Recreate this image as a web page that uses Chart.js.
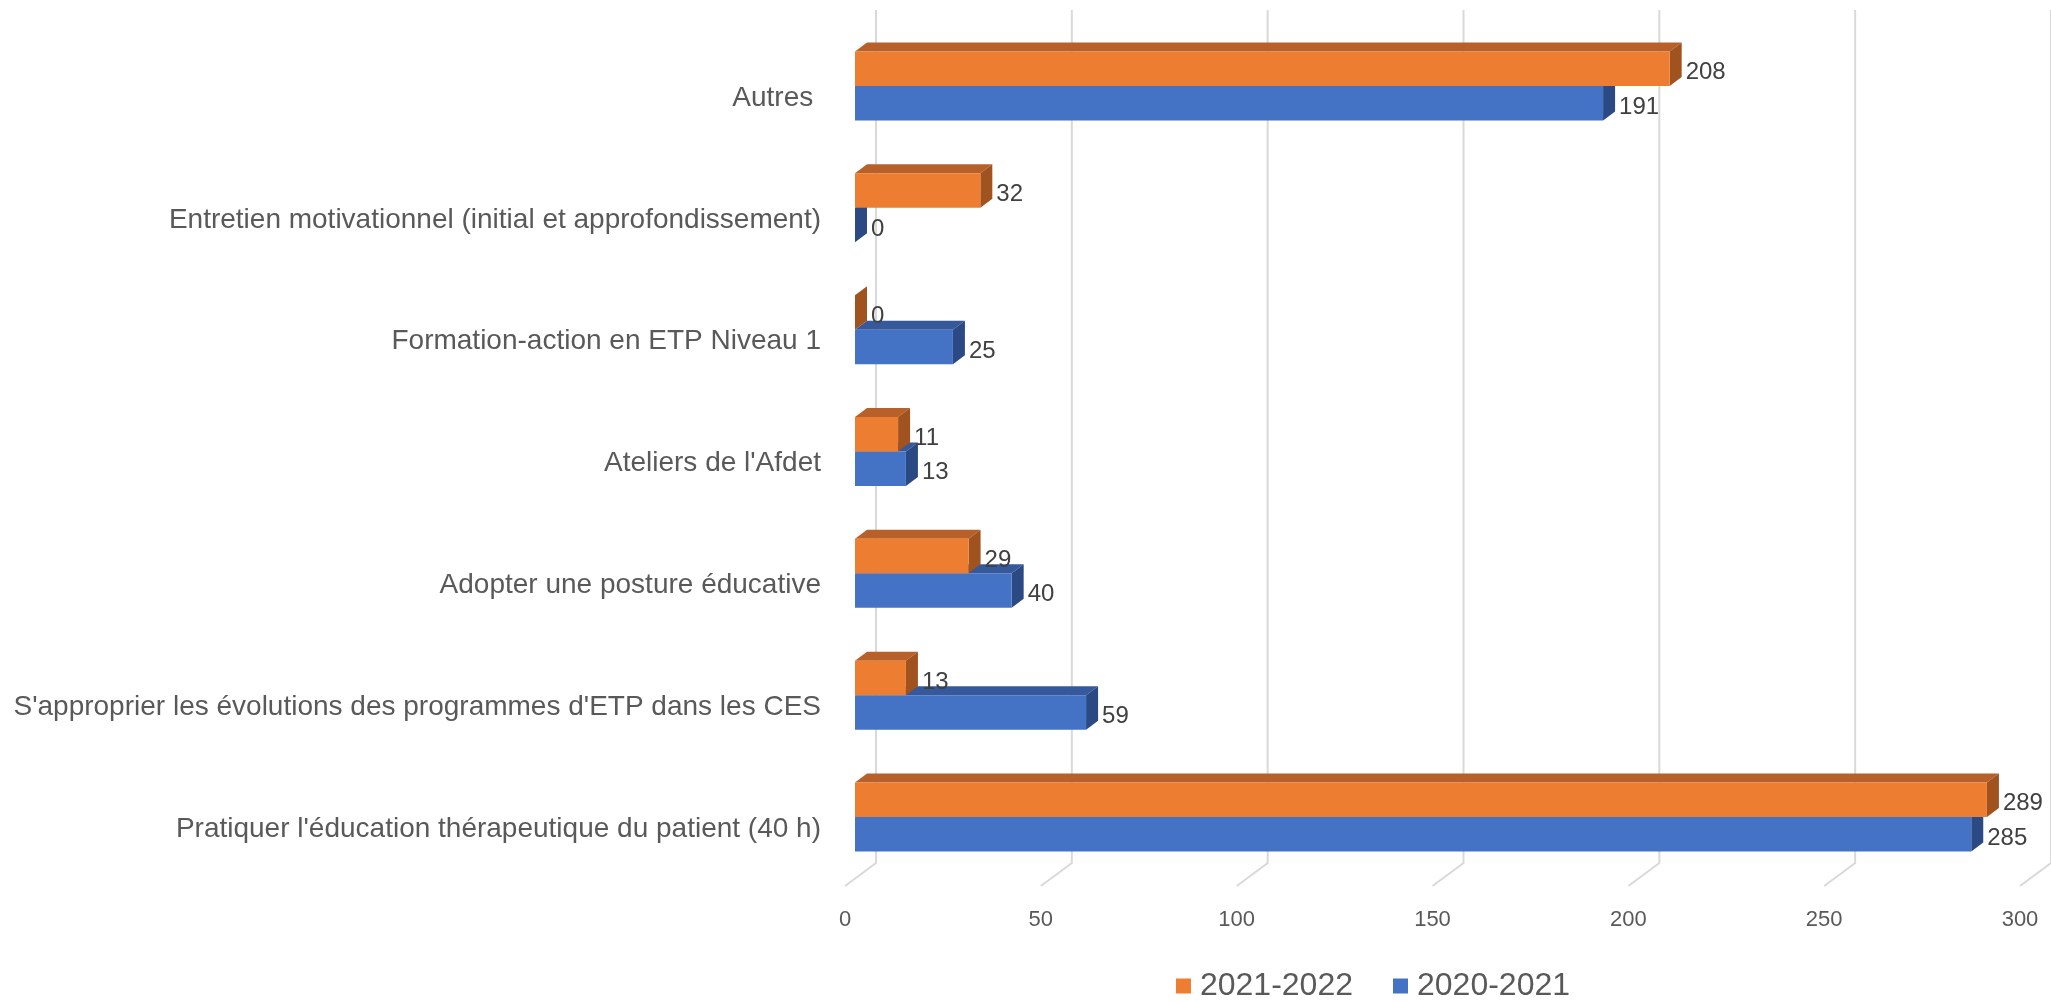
<!DOCTYPE html>
<html>
<head>
<meta charset="utf-8">
<title>Formations ETP</title>
<script src="https://cdn.jsdelivr.net/npm/chart.js@4.4.1/dist/chart.umd.min.js"></script>
<style>
    html, body { margin: 0; padding: 0; background: #fff; }
    #wrap { width: 2051px; height: 1002px; }
</style>
</head>
<body>
<div id="wrap"><canvas id="chart" width="2051" height="1002"></canvas></div>
<script>
// === Data ===
const categories = [
    'Autres ',
    'Entretien motivationnel (initial et approfondissement)',
    'Formation-action en ETP Niveau 1',
    "Ateliers de l'Afdet",
    'Adopter une posture éducative',
    "S'approprier les évolutions des programmes d'ETP dans les CES",
    "Pratiquer l'éducation thérapeutique du patient (40 h)"
];
const seriesNames = ['2021-2022', '2020-2021'];
const values2122 = [208, 32, 0, 11, 29, 13, 289];
const values2021 = [191, 0, 25, 13, 40, 59, 285];
const xTicks = [0, 50, 100, 150, 200, 250, 300];

// === Style ===
const FONT = "'Liberation Sans', Arial, sans-serif";
const faceColors = [
    { front: '#ED7D31', top: '#B7602A', side: '#A0521F' },
    { front: '#4472C4', top: '#35599B', side: '#2B4A84' }
];
const DX = 12;   // depth offset of the 3D faces
const DY = -9;

// === 3D faces, back wall grid, data labels ===
const bar3d = {
    id: 'bar3d',
    beforeDatasetsDraw(chart) {
        const ctx = chart.ctx;
        const xs = chart.scales.x;
        const area = chart.chartArea;
        ctx.save();
        ctx.strokeStyle = '#D9D9D9';
        ctx.lineWidth = 2;
        xTicks.forEach(v => {
            const px = xs.getPixelForValue(v);
            ctx.beginPath();
            ctx.moveTo(px + 21, 10);
            ctx.lineTo(px + 21, area.bottom - 15);
            ctx.lineTo(px - 10, area.bottom + 8);
            ctx.stroke();
        });
        for (let d = chart.data.datasets.length - 1; d >= 0; d--) {
            const c = faceColors[d];
            chart.getDatasetMeta(d).data.forEach(bar => {
                const { x, y, base, height } = bar.getProps(['x', 'y', 'base', 'height'], true);
                const top = y - height / 2;
                const bottom = y + height / 2;
                ctx.fillStyle = c.top;
                ctx.beginPath();
                ctx.moveTo(base, top);
                ctx.lineTo(base + DX, top + DY);
                ctx.lineTo(x + DX, top + DY);
                ctx.lineTo(x, top);
                ctx.closePath();
                ctx.fill();
                ctx.fillStyle = c.side;
                ctx.beginPath();
                ctx.moveTo(x, top);
                ctx.lineTo(x + DX, top + DY);
                ctx.lineTo(x + DX, bottom + DY);
                ctx.lineTo(x, bottom);
                ctx.closePath();
                ctx.fill();
            });
        }
        ctx.restore();
    },
    afterDatasetsDraw(chart) {
        const ctx = chart.ctx;
        ctx.save();
        ctx.font = '24px ' + FONT;
        ctx.fillStyle = '#404040';
        ctx.textAlign = 'left';
        ctx.textBaseline = 'middle';
        chart.data.datasets.forEach((ds, d) => {
            chart.getDatasetMeta(d).data.forEach((bar, i) => {
                const { x, y } = bar.getProps(['x', 'y'], true);
                ctx.fillText(String(ds.data[i]), x + DX + 4, y + 4);
            });
        });
        ctx.restore();
    },
    afterDraw(chart) {
        // legend
        const ctx = chart.ctx;
        ctx.save();
        ctx.font = '32px ' + FONT;
        ctx.textBaseline = 'middle';
        ctx.textAlign = 'left';
        const box = 15, gap = 9, spacing = 40;
        const widths = chart.data.datasets.map(ds => ctx.measureText(ds.label).width);
        const total = widths.reduce((a, w) => a + box + gap + w, 0) + spacing * (widths.length - 1);
        let x = 1373 - total / 2;
        const y = 986;
        chart.data.datasets.forEach((ds, d) => {
            ctx.fillStyle = faceColors[d].front;
            ctx.fillRect(x, y - box / 2, box, box);
            x += box + gap;
            ctx.fillStyle = '#595959';
            ctx.fillText(ds.label, x, y);
            x += widths[d] + spacing;
        });
        ctx.restore();
    }
};

// === Chart ===
new Chart(document.getElementById('chart').getContext('2d'), {
    type: 'bar',
    data: {
        labels: categories,
        datasets: [
            {
                label: seriesNames[0],
                data: values2122,
                backgroundColor: faceColors[0].front,
                borderWidth: 0,
                categoryPercentage: 0.566,
                barPercentage: 1
            },
            {
                label: seriesNames[1],
                data: values2021,
                backgroundColor: faceColors[1].front,
                borderWidth: 0,
                categoryPercentage: 0.566,
                barPercentage: 1
            }
        ]
    },
    options: {
        indexAxis: 'y',
        responsive: false,
        animation: false,
        layout: { padding: { top: 25, right: 21, bottom: 64, left: 0 } },
        plugins: {
            legend: { display: false },
            tooltip: { enabled: false }
        },
        scales: {
            x: {
                min: 0,
                max: 300,
                afterBuildTicks: s => { s.ticks = xTicks.map(v => ({ value: v })); },
                afterFit: s => { s.height = 60; s.paddingLeft = 0; s.paddingRight = 0; },
                grid: { display: false, drawTicks: false },
                border: { display: false },
                ticks: {
                    color: '#595959',
                    font: { family: FONT, size: 22 },
                    padding: 29,
                    labelOffset: -10,
                    maxRotation: 0
                }
            },
            y: {
                afterFit: s => { s.width = 855; s.paddingTop = 0; s.paddingBottom = 0; },
                grid: { display: false, drawTicks: false },
                border: { display: false },
                ticks: {
                    color: '#595959',
                    font: { family: FONT, size: 28 },
                    padding: 34,
                    labelOffset: 12,
                    autoSkip: false
                }
            }
        }
    },
    plugins: [bar3d]
});
</script>
</body>
</html>
